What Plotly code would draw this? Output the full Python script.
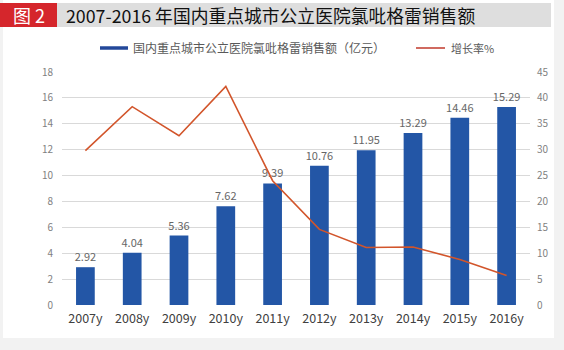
import plotly.graph_objects as go

years = ["2007y", "2008y", "2009y", "2010y", "2011y", "2012y", "2013y", "2014y", "2015y", "2016y"]
sales = [2.92, 4.04, 5.36, 7.62, 9.39, 10.76, 11.95, 13.29, 14.46, 15.29]
growth = [29.8, 38.3, 32.7, 42.2, 24.0, 14.6, 11.1, 11.2, 8.8, 5.7]
left_ticks = [0, 2, 4, 6, 8, 10, 12, 14, 16, 18]
right_ticks = [0, 5, 10, 15, 20, 25, 30, 35, 40, 45]

title_tag = "图 2"
title_text = "2007-2016 年国内重点城市公立医院氯吡格雷销售额"
bar_name = "国内重点城市公立医院氯吡格雷销售额（亿元）"
line_name = "增长率%"

W, H = 564, 350
L, R, T, B = 62, 34, 72, 45
pw, ph = W - L - R, H - T - B

def px(x):
    return (x - L) / pw

def py(y):
    return (H - B - y) / ph

FONT = "Noto Sans CJK SC"
BLUE = "#2356a6"
RED = "#d2552b"

fig = go.Figure()
fig.add_trace(go.Bar(
    x=years, y=sales, name=bar_name, marker=dict(color=BLUE, line=dict(width=0)),
    width=0.4, text=[f"{v:.2f}" for v in sales], textposition="outside",
    constraintext="none",
    textfont=dict(size=11, color="#666666", family=FONT), cliponaxis=False,
    showlegend=False,
))
fig.add_trace(go.Scatter(
    x=years, y=growth, name=line_name, mode="lines", yaxis="y2",
    line=dict(color=RED, width=1.6), showlegend=False,
))

shapes = [
    dict(type="rect", xref="paper", yref="paper", x0=px(3), x1=px(554), y0=py(338), y1=py(0),
         fillcolor="white", line=dict(width=0), layer="below"),
    dict(type="rect", xref="paper", yref="paper", x0=px(57), x1=px(551), y0=py(27), y1=py(3),
         fillcolor="#dedede", line=dict(width=0), layer="below"),
    dict(type="rect", xref="paper", yref="paper", x0=px(0), x1=px(57), y0=py(27), y1=py(3),
         fillcolor="#d5262c", line=dict(width=0), layer="below"),
    dict(type="line", xref="paper", yref="paper", x0=px(100), x1=px(128), y0=py(48), y1=py(48),
         line=dict(color="#23489a", width=3.5)),
    dict(type="line", xref="paper", yref="paper", x0=px(416), x1=px(445), y0=py(48), y1=py(48),
         line=dict(color="#c0392b", width=1.5)),
]

annotations = [
    dict(text=title_tag, xref="paper", yref="paper", x=px(29), y=py(15), showarrow=False,
         xanchor="center", yanchor="middle", font=dict(size=18, color="white", family=FONT)),
    dict(text=title_text, xref="paper", yref="paper", x=px(64), y=py(15), showarrow=False,
         xanchor="left", yanchor="middle", font=dict(size=17.8, color="#111111", family=FONT)),
    dict(text=bar_name, xref="paper", yref="paper", x=px(131), y=py(48), showarrow=False,
         xanchor="left", yanchor="middle", font=dict(size=12, color="#595959", family=FONT)),
    dict(text=line_name, xref="paper", yref="paper", x=px(449), y=py(48), showarrow=False,
         xanchor="left", yanchor="middle", font=dict(size=11, color="#595959", family=FONT)),
]

fig.update_layout(
    width=W, height=H, margin=dict(l=L, r=R, t=T, b=B),
    paper_bgcolor="#f2f2f2", plot_bgcolor="rgba(0,0,0,0)",
    font=dict(family=FONT),
    bargap=0.6,
    shapes=shapes, annotations=annotations,
    xaxis=dict(showgrid=False, showline=False, ticks="", tickfont=dict(size=12.5, color="#404040"),
               zeroline=False, ticklabelstandoff=4),
    yaxis=dict(range=[0, 18], tickvals=left_ticks, showgrid=True, gridcolor="#d9d9d9",
               gridwidth=1, zeroline=False, showline=False,
               tickfont=dict(size=10, color="#7f7f7f"), ticklabelstandoff=8),
    yaxis2=dict(range=[0, 45], tickvals=right_ticks, overlaying="y", side="right",
                showgrid=False, zeroline=False, showline=False,
                tickfont=dict(size=10, color="#7f7f7f"), ticklabelstandoff=6),
)

fig.write_html("out.html")
